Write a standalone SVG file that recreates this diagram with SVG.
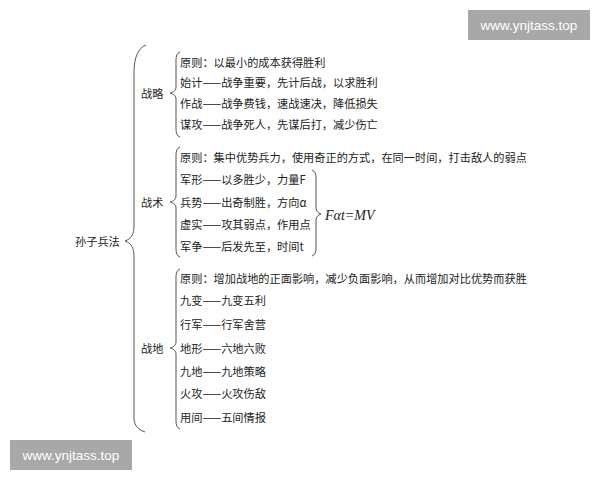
<svg xmlns="http://www.w3.org/2000/svg" width="600" height="480" viewBox="0 0 600 480">
<style>
.t{font-family:"Noto Sans CJK SC","Noto Sans",sans-serif;font-size:11.2px;fill:#222;dominant-baseline:central}
.b{fill:none;stroke:#555;stroke-width:1}
.f{font-family:"Liberation Serif",serif;font-style:italic;font-size:14px;fill:#222;dominant-baseline:central}
.wm{fill:#a8a8a8}
.wt{font-family:"Liberation Sans",Arial,sans-serif;font-size:13.5px;fill:#fff;text-anchor:middle}
</style>
<rect width="600" height="480" fill="#fff"/>
<g id="connectors">
<path class="b" d="M146,45 C138,48 134,58 134,72 L134,226 C134,234 131,239 125,241 C131,243 134,248 134,256 L134,418 C134,426 139,430 145,432"/>
<path class="b" d="M180,52 C177,53 176,56 176,60 L176,87 C176,90 174,92 170,93 C174,94 176,96 176,99 L176,129 C176,133 177,136 180,137"/>
<path class="b" d="M180,147 C177,148 176,151 176,155 L176,196 C176,199 174,201 170,202 C174,203 176,205 176,208 L176,249 C176,253 177,256 180,257"/>
<path class="b" d="M180,269 C177,270 176,273 176,277 L176,342 C176,345 174,347 170,348 C174,349 176,351 176,354 L176,421 C176,425 177,428 180,429"/>
<path class="b" d="M312,170 C315,171 316,174 316,178 L316,208 C316,211 318,213 321,214 C318,215 316,217 316,220 L316,248 C316,252 315,255 312,256"/>
</g>
<g id="root"><text class="t" x="75" y="241">孙子兵法</text></g>
<g id="zhanlue">
<text class="t" x="141" y="93">战略</text>
<text class="t" x="180" y="62">原则：以最小的成本获得胜利</text>
<text class="t" x="180" y="82">始计——战争重要，先计后战，以求胜利</text>
<text class="t" x="180" y="103">作战——战争费钱，速战速决，降低损失</text>
<text class="t" x="180" y="124">谋攻——战争死人，先谋后打，减少伤亡</text>
</g>
<g id="zhanshu">
<text class="t" x="141" y="202">战术</text>
<text class="t" x="180" y="157">原则：集中优势兵力，使用奇正的方式，在同一时间，打击敌人的弱点</text>
<text class="t" x="180" y="179">军形——以多胜少，力量F</text>
<text class="t" x="180" y="202">兵势——出奇制胜，方向α</text>
<text class="t" x="180" y="224">虚实——攻其弱点，作用点</text>
<text class="t" x="180" y="246">军争——后发先至，时间t</text>
<text class="f" x="325" y="215">Fαt=MV</text>
</g>
<g id="zhandi">
<text class="t" x="141" y="348">战地</text>
<text class="t" x="180" y="278">原则：增加战地的正面影响，减少负面影响，从而增加对比优势而获胜</text>
<text class="t" x="180" y="300">九变——九变五利</text>
<text class="t" x="180" y="324">行军——行军舍营</text>
<text class="t" x="180" y="348">地形——六地六败</text>
<text class="t" x="180" y="371">九地——九地策略</text>
<text class="t" x="180" y="393">火攻——火攻伤敌</text>
<text class="t" x="180" y="417">用间——五间情报</text>
</g>
<g id="watermarks">
<rect class="wm" x="468" y="10" width="122" height="30"/>
<text class="wt" x="529" y="30">www.ynjtass.top</text>
<rect class="wm" x="10" y="440" width="122" height="30"/>
<text class="wt" x="71" y="460">www.ynjtass.top</text>
</g>
</svg>
